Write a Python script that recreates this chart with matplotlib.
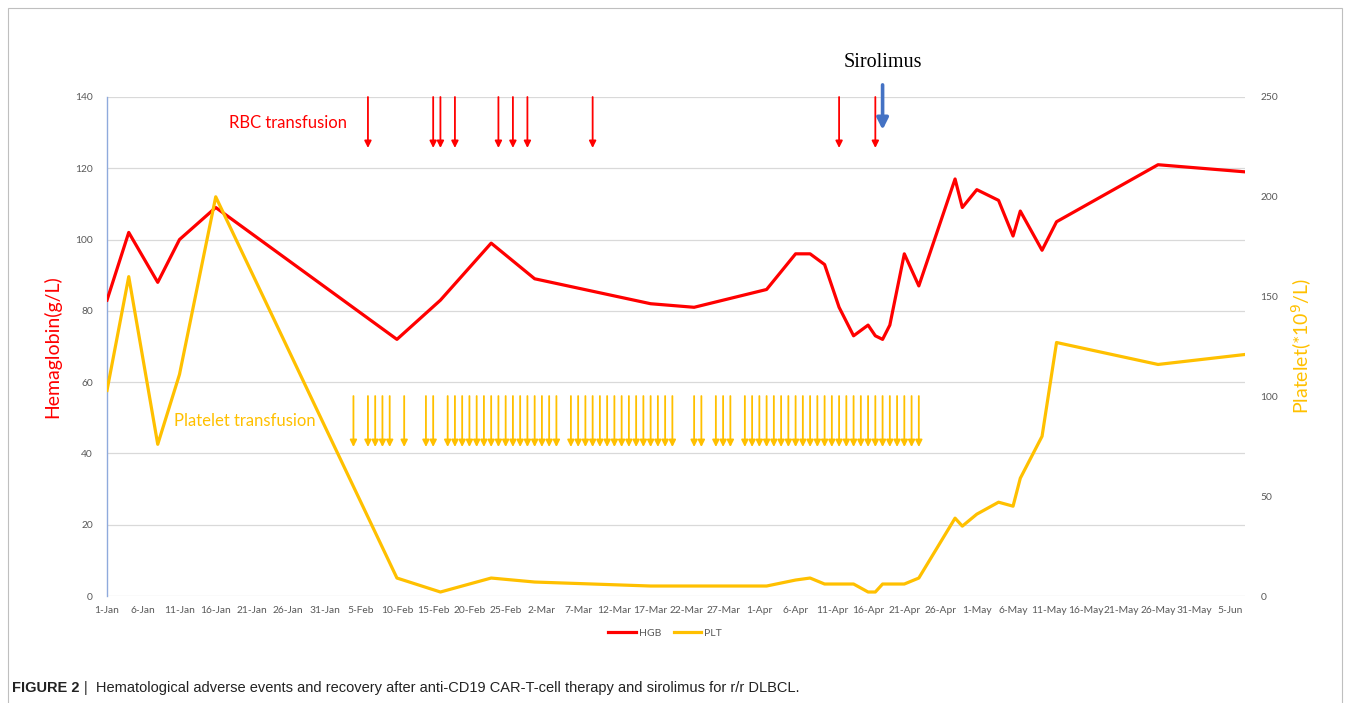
import matplotlib
matplotlib.use('Agg')  # no display in the sandbox
import matplotlib.pyplot as plt
import matplotlib.dates as mdates
import pandas as pd
from matplotlib.lines import Line2D
from matplotlib.patches import Rectangle

YEAR = 2021  # non-leap year: 25-Feb -> 2-Mar is a 5-day step

# measurement dates with haemoglobin (g/L) and platelet (*10^9/L) values
dates = ['1-Jan', '4-Jan', '8-Jan', '11-Jan', '16-Jan', '10-Feb', '16-Feb', '23-Feb',
         '1-Mar', '17-Mar', '23-Mar', '2-Apr', '6-Apr', '8-Apr', '10-Apr', '12-Apr',
         '14-Apr', '16-Apr', '17-Apr', '18-Apr', '19-Apr', '21-Apr', '23-Apr', '28-Apr',
         '29-Apr', '1-May', '4-May', '6-May', '7-May', '10-May', '12-May', '26-May', '7-Jun']
hgb = [83, 102, 88, 100, 109, 72, 83, 99,
       89, 82, 81, 86, 96, 96, 93, 81,
       73, 76, 73, 72, 76, 96, 87, 117,
       109, 114, 111, 101, 108, 97, 105, 121, 119]
plt_count = [103, 160, 76, 111, 200, 9, 2, 9,
             7, 5, 5, 5, 8, 9, 6, 6,
             6, 2, 2, 6, 6, 6, 9, 39,
             35, 41, 47, 45, 59, 80, 127, 116, 121]

# transfusion events
rbc_dates = ['6-Feb', '15-Feb', '16-Feb', '18-Feb', '24-Feb', '26-Feb', '28-Feb',
             '9-Mar', '12-Apr', '17-Apr']
platelet_spans = [('4-Feb', '4-Feb'), ('6-Feb', '9-Feb'), ('11-Feb', '11-Feb'),
                  ('14-Feb', '15-Feb'), ('17-Feb', '4-Mar'), ('6-Mar', '20-Mar'),
                  ('23-Mar', '24-Mar'), ('26-Mar', '28-Mar'), ('30-Mar', '23-Apr')]
sirolimus_date = '18-Apr'

hgb_ticks = list(range(0, 141, 20))
plt_ticks = list(range(0, 251, 50))


def to_date(s):
    return pd.to_datetime(f'{s}-{YEAR}', format='%d-%b-%Y')


x = [to_date(d) for d in dates]
rbc_x = [to_date(d) for d in rbc_dates]
platelet_x = []
for start, end in platelet_spans:
    platelet_x += list(pd.date_range(to_date(start), to_date(end), freq='D'))
siro_x = to_date(sirolimus_date)

RED = '#FF0000'
GOLD = '#FFC000'
BLUE = '#4472C4'
GREY = '#595959'
CAL = 'Lato'  # closest to Calibri

fig = plt.figure(figsize=(13.5, 7.03), dpi=100)
ax = fig.add_axes([107 / 1350, 1 - 596 / 703, (1245 - 107) / 1350, (596 - 97) / 703])
ax2 = ax.twinx()

ax.plot(x, hgb, color=RED, lw=2.3, label='HGB', zorder=3)
ax2.plot(x, plt_count, color=GOLD, lw=2.3, label='PLT', zorder=3)

ax.set_xlim(to_date('1-Jan'), to_date('7-Jun'))
ax.set_ylim(0, 140)
ax2.set_ylim(0, 250)
ax.set_yticks(hgb_ticks)
ax2.set_yticks(plt_ticks)

ticks = pd.date_range(to_date('1-Jan'), to_date('5-Jun'), freq='5D')
ax.set_xticks(ticks)
ax.xaxis.set_major_formatter(mdates.DateFormatter('%-d-%b'))

for a in (ax, ax2):
    a.tick_params(length=0, labelsize=7.4, labelcolor=GREY)
    for lab in a.get_xticklabels() + a.get_yticklabels():
        lab.set_family(CAL)
    for s in ('top', 'right', 'left', 'bottom'):
        a.spines[s].set_visible(False)
ax.tick_params(axis='y', pad=10)
ax2.tick_params(axis='y', pad=11)
ax.tick_params(axis='x', pad=7)

ax.yaxis.grid(True, color='#D9D9D9', lw=0.9)
ax.set_axisbelow(True)
ax.spines['left'].set_visible(True)
ax.spines['left'].set_color('#8FAADC')
ax.spines['left'].set_linewidth(1.0)

ax.set_ylabel('Hemaglobin(g/L)', color=RED, fontsize=14, family=CAL, labelpad=10)
ax2.set_ylabel('Platelet(*10$^{9}$/L)', color=GOLD, fontsize=14, family=CAL, labelpad=8)

# transfusion arrows
arrow_kw = dict(arrowstyle='-|>', lw=1.3, mutation_scale=10, shrinkA=0, shrinkB=0)
for d in rbc_x:
    ax.annotate('', xy=(d, 125.7), xytext=(d, 140), annotation_clip=False,
                arrowprops=dict(color=RED, **arrow_kw))
for d in platelet_x:
    ax.annotate('', xy=(d, 41.8), xytext=(d, 56.1), annotation_clip=False,
                arrowprops=dict(color=GOLD, **arrow_kw))
ax.annotate('', xy=(siro_x, 130.8), xytext=(siro_x, 143.4), annotation_clip=False,
            arrowprops=dict(arrowstyle='-|>', color=BLUE, lw=2.6, mutation_scale=17,
                            shrinkA=0, shrinkB=0))

ax.text(to_date('26-Jan'), 132.7, 'RBC transfusion', color=RED, fontsize=12,
        family=CAL, ha='center', va='center')
ax.text(to_date('20-Jan'), 49.1, 'Platelet transfusion', color=GOLD, fontsize=12,
        family=CAL, ha='center', va='center')
ax.text(siro_x, 149.6, 'Sirolimus', color='black', fontsize=14.5,
        family='Liberation Serif', ha='center', va='center', clip_on=False)

handles = [Line2D([], [], color=RED, lw=2.3), Line2D([], [], color=GOLD, lw=2.3)]
leg = fig.legend(handles, ['HGB', 'PLT'], loc='center', ncol=2, frameon=False,
                 bbox_to_anchor=(665 / 1350, 1 - 633 / 703), handlelength=2.6,
                 columnspacing=1.2, handletextpad=0.3,
                 prop={'family': CAL, 'size': 7.5})
for t in leg.get_texts():
    t.set_color(GREY)

# outer frame
fig.patches.append(Rectangle((8 / 1350, -0.05), 1334 / 1350, 1.05 - 8 / 703,
                             transform=fig.transFigure, fill=False,
                             edgecolor='#BFBFBF', lw=0.8))

# caption
cap_font = ['Liberation Sans Narrow', 'Liberation Sans']
t1 = fig.text(12 / 1350, 1 - 688 / 703, 'FIGURE 2', fontsize=10.5, fontweight='bold',
              family=cap_font, va='center', color='#222222')
renderer = fig.canvas.get_renderer()
bb = t1.get_window_extent(renderer)
fig.text((bb.x1 + 4) / 1350, 1 - 688 / 703,
         '|  Hematological adverse events and recovery after anti-CD19 CAR-T-cell '
         'therapy and sirolimus for r/r DLBCL.',
         fontsize=10.5, family=cap_font, va='center', color='#222222')

fig.savefig('out.png', dpi=100, facecolor='white')
